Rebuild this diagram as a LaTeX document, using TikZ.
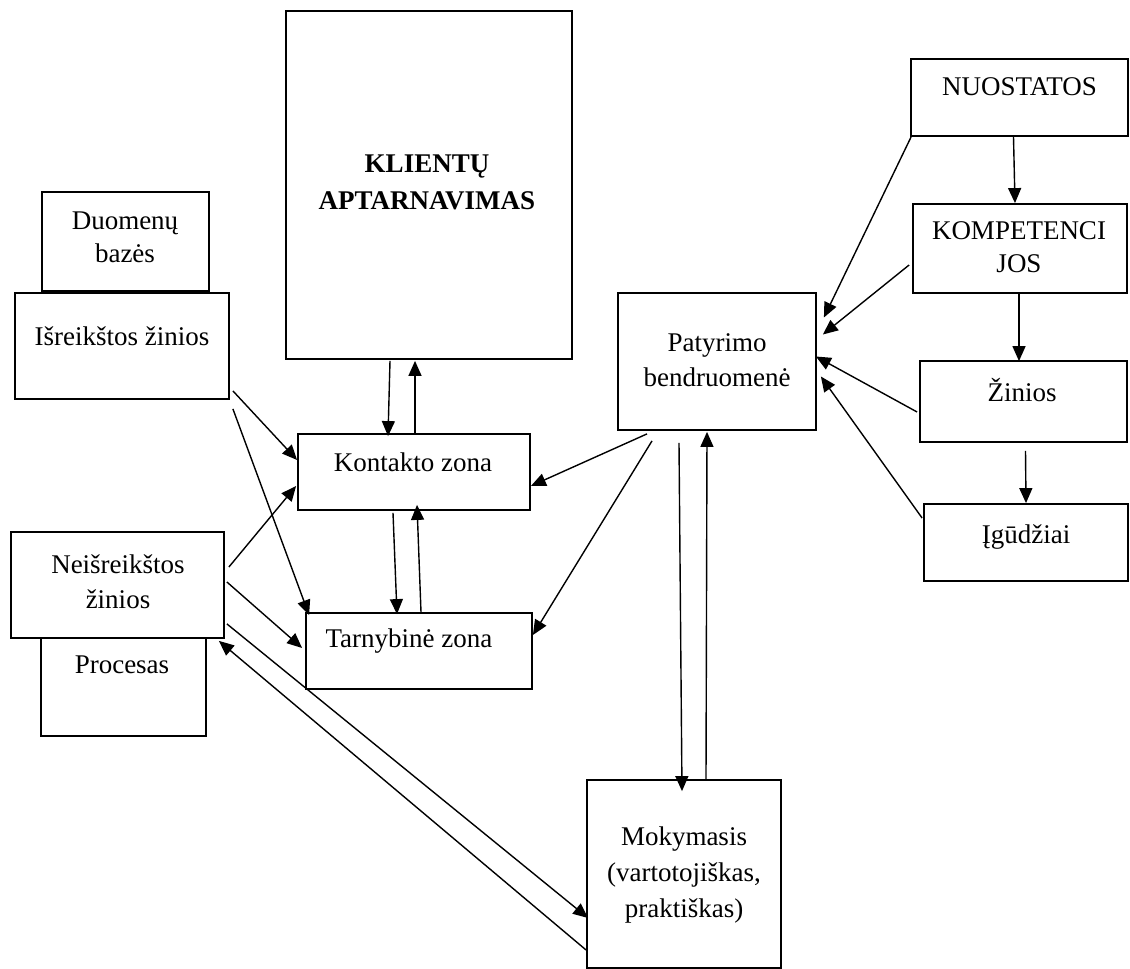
\documentclass[tikz,border=0pt]{standalone}
\usepackage{fontspec}
\setmainfont{Liberation Serif}
\usetikzlibrary{arrows.meta}
\begin{document}
\begin{tikzpicture}[x=1pt, y=-1pt,
  box/.style n args={2}{draw=black, line width=1.8pt, fill=white, inner sep=0pt,
    minimum width=#1, minimum height=#2},
  txt/.style={font=\fontsize{27}{35}\selectfont, align=center, inner sep=0pt},
  arr/.style={line width=1.4pt, -{Triangle[length=15pt, width=13pt]}}]

% canvas
\fill[white] (0,0) rectangle (1130,969);
\useasboundingbox (0,0) rectangle (1130,969);

% boxes
\node[box={286pt}{348pt}] (klient) at (429,185)   {};
\node[box={167pt}{99pt}]  (duom)   at (125.5,241.5) {};
\node[box={214pt}{106pt}] (isr)    at (122,346)   {};
\node[box={165pt}{99pt}]  (proc)   at (123.5,686.5) {};
\node[box={213pt}{106pt}] (neisr)  at (117.5,585) {};
\node[box={232pt}{76pt}]  (kont)   at (414,472)   {};
\node[box={226pt}{76pt}]  (tarn)   at (419,651)   {};
\node[box={198pt}{137pt}] (pat)    at (717,361.5) {};
\node[box={194pt}{188pt}] (mok)    at (684,874)   {};
\node[box={217pt}{77pt}]  (nuo)    at (1019.5,97.5) {};
\node[box={214pt}{89pt}]  (komp)   at (1020,248.5) {};
\node[box={207pt}{81pt}]  (zin)    at (1023.5,401.5) {};
\node[box={204pt}{77pt}]  (igud)   at (1026,542.5) {};

% texts
\node[txt, font=\fontsize{27}{37}\selectfont\bfseries] (klient-t) at (427,182) {KLIENTŲ\\APTARNAVIMAS};
\node[txt, font=\fontsize{27}{33}\selectfont] (duom-t) at (125,237) {Duomenų\\bazės};
\node[txt] (isr-t)   at (122,336)  {Išreikštos žinios};
\node[txt] (neisr-t) at (118,582)  {Neišreikštos\\žinios};
\node[txt] (proc-t)  at (122,665)  {Procesas};
\node[txt] (kont-t)  at (413,462)  {Kontakto zona};
\node[txt] (tarn-t)  at (409,641)  {Tarnybinė zona};
\node[txt] (pat-t)   at (717,360)  {Patyrimo\\bendruomenė};
\node[txt, font=\fontsize{27}{36}\selectfont] (mok-t) at (684,875) {Mokymasis\\(vartotojiškas,\\praktiškas)};
\node[txt] (nuo-t)   at (1019.5,87) {NUOSTATOS};
\node[txt, font=\fontsize{27}{33}\selectfont] (komp-t) at (1019,247) {KOMPETENCI\\JOS};
\node[txt] (zin-t)   at (1022,390) {Žinios};
\node[txt] (igud-t)  at (1026,537) {Įgūdžiai};

% connectors around the contact and service zones
\draw[arr] ([shift={(-39,1)}]klient.south) -- ([shift={(-26,3)}]kont.north);
\draw[arr] ([shift={(1,0)}]kont.north) -- ([shift={(-14,1)}]klient.south);
\draw[arr] ([shift={(-21,2)}]kont.south) -- ([shift={(-22,2)}]tarn.north);
\draw[arr] ([shift={(2,0)}]tarn.north) -- ([shift={(3,-6)}]kont.south);

% explicit and tacit knowledge
\draw[arr] ([shift={(3,-9)}]isr.south east) -- ([shift={(0,-12)}]kont.west);
\draw[arr] ([shift={(3,9)}]isr.south east) -- ([shift={(4,3)}]tarn.north west);
\draw[arr] ([shift={(4,-18)}]neisr.east) -- ([shift={(-1,14)}]kont.west);
\draw[arr] ([shift={(2,-3)}]neisr.east) -- ([shift={(-3,-3)}]tarn.west);
\draw[arr] ([shift={(2,-15)}]neisr.south east) -- ([shift={(2,44)}]mok.west);
\draw[arr] ([shift={(0,76)}]mok.west) -- ([shift={(-6,2)}]neisr.south east);

% community of practice
\draw[arr] ([shift={(-70,3)}]pat.south) -- ([shift={(0,14)}]kont.east);
\draw[arr] ([shift={(-65,10)}]pat.south) -- ([shift={(0,-16)}]tarn.east);
\draw[arr] ([shift={(-38,12)}]pat.south) -- ([shift={(-2,12)}]mok.north);
\draw[arr] ([shift={(22,0)}]mok.north) -- ([shift={(-10,1)}]pat.south);

% attitudes, competences, knowledge, skills
\draw[arr] ([shift={(1,0)}]nuo.south west) -- ([shift={(7,-44)}]pat.east);
\draw[arr] ([shift={(-3,16.5)}]komp.west) -- ([shift={(6,-27)}]pat.east);
\draw[arr] ([shift={(-2,10.5)}]zin.west) -- ([shift={(-1,-5)}]pat.east);
\draw[arr] ([shift={(-1,-24.5)}]igud.west) -- ([shift={(4,15)}]pat.east);
\draw[arr] ([shift={(-6,0)}]nuo.south) -- ([shift={(-5,0)}]komp.north);
\draw[arr] ([shift={(-1,0)}]komp.south) -- ([shift={(-4.5,1)}]zin.north);
\draw[arr] ([shift={(2,8)}]zin.south) -- ([shift={(0,0)}]igud.north);

\end{tikzpicture}
\end{document}
